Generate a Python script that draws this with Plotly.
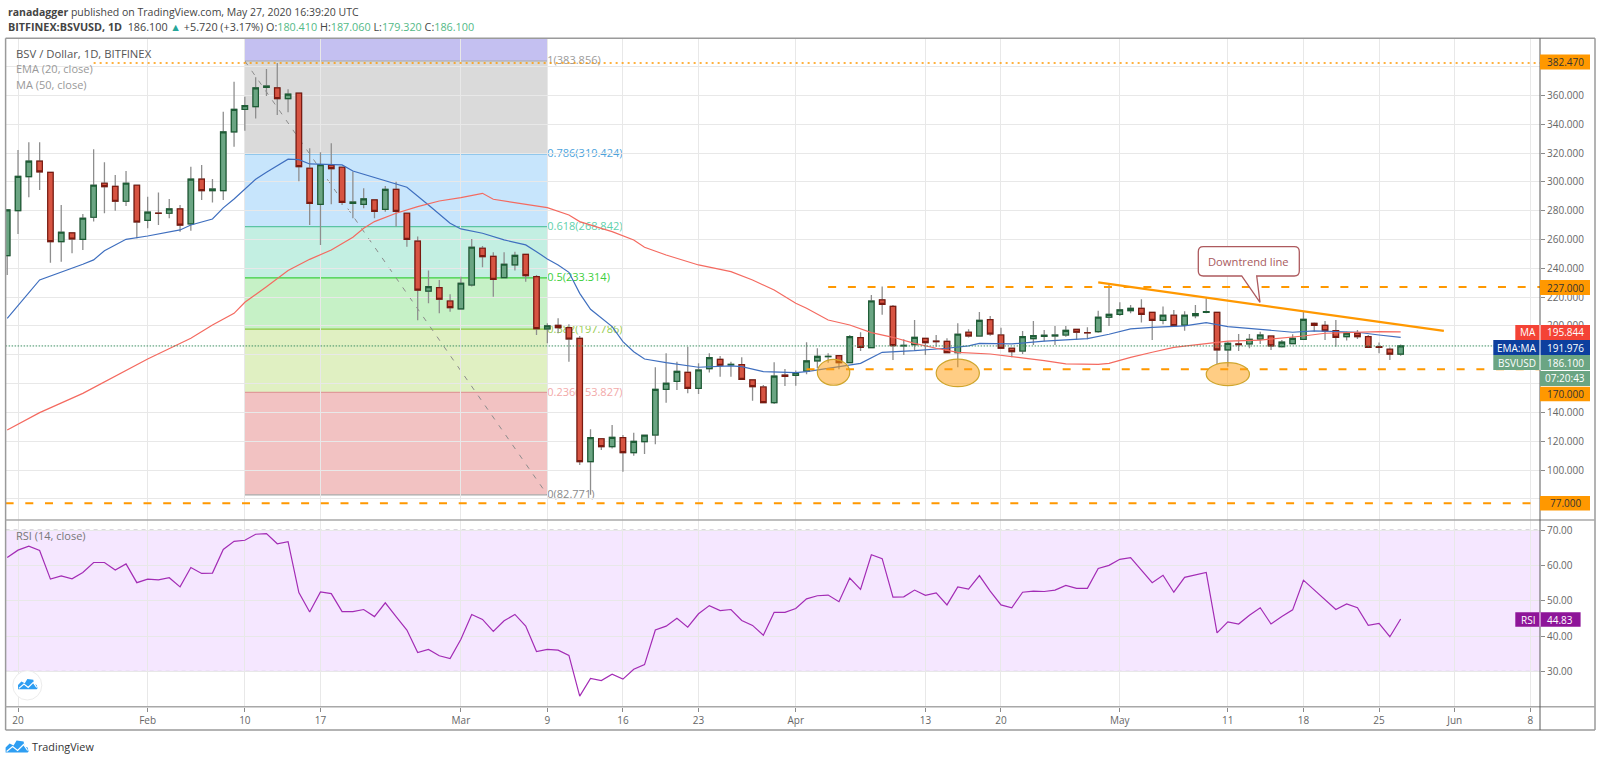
import pandas as pd
import plotly.graph_objects as go

# daily candles from 2020-01-19
opens = [248.8,280.0,303.6,314.3,306.6,258.5,264.5,260.1,275.4,299.0,296.9,286.5,297.6,273.3,278.3,278.2,281.2,270.8,301.8,293.9,
         293.9,334.6,350.3,352.2,365.6,365.2,357.8,361.5,309.4,284.4,311.5,310.1,285.1,284.4,287.4,280.9,294.8,278.2,258.9,224.2,
         226.6,217.3,211.8,228.4,253.9,248.3,233.5,242.3,249.7,234.2,197.9,200.4,198.8,191.4,105.8,121.7,116.2,122.4,112.0,119.7,
         124.3,156.0,161.5,167.8,156.7,170.3,176.8,173.0,173.1,162.5,157.6,146.7,165.9,165.7,168.7,175.7,178.7,179.4,174.5,191.9,
         184.9,218.0,213.6,186.1,187.0,191.4,189.5,189.3,181.4,195.6,193.0,204.3,193.7,184.5,182.6,191.2,192.8,193.0,193.7,197.6,
         195.4,196.0,206.0,208.0,210.6,212.2,209.4,203.9,207.4,200.6,207.1,209.4,209.4,183.3,187.5,187.5,190.9,193.0,185.6,187.7,
         190.7,201.8,200.4,196.7,192.5,194.9,192.5,185.6,183.8,180.41]
highs = [281,322.1,327.4,327.4,307,283.9,265,277.7,322.6,313.6,304.8,307.5,297.6,289.7,292.5,288.1,283.9,310.5,311.7,302,
         348.7,369.5,359,372.6,378.3,382.47,364.2,362,323.3,320.5,326.7,310.1,307.1,295.5,287.4,297.1,300.1,278.2,262,238.4,
         231.9,221.9,234.2,260.3,255.5,251.1,251.1,251.5,249.7,235.4,201.8,205.3,201.1,193,128.2,121.9,131.2,124.3,125.9,124.5,
         171.3,181,175.2,185.6,174,181,179.1,175.2,178.2,162.5,159,174.7,170.1,169,188.6,184.5,181,179.4,193.7,195.6,
         221.5,227.3,214.5,190.7,204.1,191.4,193.7,191.4,201.8,197.6,209.7,206.9,198.8,184.5,196.5,203.4,197.2,200,200,197.6,
         199,210.6,228.9,216.4,214.5,218.5,209.4,213.4,211.1,210.1,214.5,219.2,209.9,189.1,194.4,194.4,196,193,190.2,194.2,
         209.9,202.3,203.4,204.1,196,197.2,193.7,188.4,185.1,187.06]
lows = [235.4,263.8,289.3,294.4,243.9,244.6,250.4,252.7,272.4,278.2,280,283.3,260.8,267.7,270,274.7,265.4,266.1,287.4,285.6,
        287.4,324.4,335.5,343.9,359.6,346.4,348.3,300.4,270,256.2,284.4,283.9,274.7,281.6,274.7,279.3,268.9,255,204,215.7,
        208.7,209.9,211.8,227.3,240.7,220.3,233,238.4,230.7,193.7,187.9,194.9,175.2,103.5,82.8,113.9,115,98.8,109.9,111.1,
        117.8,146.7,155.5,153.2,152.8,167.6,164.8,164.8,162.9,148.1,146.3,145.8,158.3,158.4,166.4,170.6,174.5,169.9,174,182.6,
        184.5,207.8,176.4,179.8,182.8,179.8,185.6,181,171.3,191.9,192.5,193.2,184,178.2,180.5,186.8,189.1,186.8,192.5,190.2,
        190.7,195.3,200,206.9,208.7,202.3,190.2,201.1,199.5,196.7,205.3,208.7,173.6,171.7,182.6,184.5,187.5,183.3,185.1,187.5,
        190.2,196,190.2,185.6,189.8,190.9,185.1,181,176.4,179.32]
closes = [280.5,303.8,314.3,306.9,258.5,265,260.3,274.7,297.6,296.7,286.5,299,272.1,278.9,278.1,281.2,270,301.8,293.9,295,
          334.6,350.3,352.9,365.2,366.5,357.8,360.8,310.6,285.1,311.9,309.2,285.8,286,288.1,279.5,294.8,279.5,260.1,224.9,227.3,
          218.5,212.7,229.6,254.6,248.1,232.3,242.8,249,234.9,198.1,200,198.8,190.9,105.8,122.4,116.2,122.7,112,119.9,124.1,
          156,160.2,168.5,156.7,169.4,178,172.7,173.3,162.9,157.8,146.7,165.2,165,167.6,175.7,178.9,178.9,174.5,192.5,185.1,
          217.3,215,186.3,186.5,192.1,188.4,189.1,181.4,194.2,193,203.9,194.4,184.5,182.1,192.5,193.2,193.5,193.7,196.9,195.6,
          195.1,206,208,211.1,212.2,208,203.9,207.4,200.2,207.4,208.5,209.9,183.3,187.9,187,190.7,193.7,186.1,188.8,191.4,
          204.6,200.4,196.5,192.1,194.9,192.5,185.1,185.1,180.38,186.1]
rsi = [62.2,64.3,65.4,64.2,56.1,57,56.2,58,60.8,60.8,58.7,60.4,55.1,56.1,55.9,56.5,53.9,59.4,57.7,57.8,
       64.5,66.8,67.1,68.8,69,66.1,66.7,52.3,46.8,52.5,52,46.9,46.9,47.5,45.5,49.4,45.5,41.7,35.3,36.2,
       34.4,33.6,39.1,46.1,44.7,41.3,44.3,46.1,42.8,35.6,36.2,36,34.5,23,28,27.4,29.2,27.8,30.6,31.9,
       41.7,42.8,45,42.5,46.3,48.6,47.2,47.5,44.4,43,40.2,46.7,46.7,47.8,50.5,51.4,51.6,49.7,56.4,53.2,
       63,61.9,51,51.1,53,51.5,52.2,48.8,53.9,53.3,57.1,52.7,48.8,48,52.4,52.7,52.6,53,54.3,53.5,
       53.5,59.1,60,61.7,62.2,58.7,55.1,57.2,52.4,56.6,57.3,58,40.9,44,43.4,45.9,48,43.4,45.5,47.4,
       55.8,53,50.3,47.5,49.1,48,43,43.6,39.8,44.83]

# averages: dates where the line bends and the price there
ema_dates = ["2020-01-19","2020-01-22","2020-01-26","2020-01-27","2020-01-28","2020-01-30","2020-02-01","2020-02-04","2020-02-05","2020-02-07",
             "2020-02-08","2020-02-09","2020-02-11","2020-02-12","2020-02-14","2020-02-15","2020-02-16","2020-02-19","2020-02-20","2020-02-22",
             "2020-02-24","2020-02-25","2020-02-27","2020-02-29","2020-03-01","2020-03-03","2020-03-05","2020-03-07","2020-03-08","2020-03-09",
             "2020-03-10","2020-03-11","2020-03-12","2020-03-13","2020-03-15","2020-03-16","2020-03-17","2020-03-18","2020-03-20","2020-03-21",
             "2020-03-23","2020-03-26","2020-03-27","2020-03-29","2020-03-31","2020-04-01","2020-04-02","2020-04-03","2020-04-06","2020-04-07",
             "2020-04-09","2020-04-12","2020-04-15","2020-04-17","2020-04-18","2020-04-21","2020-04-24","2020-04-28","2020-04-30","2020-05-02",
             "2020-05-04","2020-05-07","2020-05-09","2020-05-11","2020-05-14","2020-05-17","2020-05-19","2020-05-21","2020-05-23","2020-05-25","2020-05-27"]
ema_vals = [205.3,231.9,242.8,245.8,252.2,260.1,262.4,266.6,270,274.2,281.9,288.1,301.8,306.7,315.7,315.4,312.4,311.7,307.5,302.9,
            298.5,296.2,283.9,271.2,267.3,264.3,259.7,256.2,251.5,246.5,242.3,237.2,222.6,211.5,199.5,189.1,182.1,177,174.5,173.6,
            171.3,172.2,171.7,168.3,167.6,167.6,168.3,169.4,172.9,174,181.7,182.8,184.5,186.1,187.9,187.5,189.5,191.2,194.2,197.9,
            199,200,202.3,199.5,197.6,195.6,196.5,196,195.6,193.7,191.98]
ma_dates = ["2020-01-19","2020-01-22","2020-01-26","2020-01-29","2020-02-01","2020-02-05","2020-02-07","2020-02-09","2020-02-10","2020-02-12",
            "2020-02-14","2020-02-16","2020-02-18","2020-02-20","2020-02-21","2020-02-22","2020-02-24","2020-02-26","2020-02-28","2020-03-01",
            "2020-03-03","2020-03-04","2020-03-06","2020-03-08","2020-03-09","2020-03-11","2020-03-12","2020-03-14","2020-03-15","2020-03-17",
            "2020-03-18","2020-03-20","2020-03-23","2020-03-26","2020-03-28","2020-03-30","2020-04-01","2020-04-02","2020-04-04","2020-04-06",
            "2020-04-08","2020-04-10","2020-04-12","2020-04-14","2020-04-16","2020-04-19","2020-04-21","2020-04-24","2020-04-26","2020-04-29",
            "2020-04-30","2020-05-02","2020-05-04","2020-05-06","2020-05-08","2020-05-11","2020-05-14","2020-05-16","2020-05-18","2020-05-20",
            "2020-05-23","2020-05-25","2020-05-27"]
ma_vals = [127.8,139.8,153.2,165.2,177,191.4,200.6,208.7,216.4,227.2,238.4,246.2,252.7,261.5,267.7,272.4,278.2,282.8,286.7,289,
           292,287.9,285.6,283.5,282.1,277,272.4,267.7,265.4,259.6,254.6,249.2,242.3,237.7,231.9,224.9,215.7,212.2,204.1,200.6,
           195.3,192.1,187.9,184.5,181.7,180.5,178.7,175.9,173.6,173.3,174,178.2,181.7,185.1,186.8,189.5,190.2,191.4,193,194.9,
           195.8,196,195.84]

fib_levels = [1, 0.786, 0.618, 0.5, 0.382, 0.236, 0]
fib_prices = [383.856, 319.424, 268.842, 233.314, 197.786, 153.827, 82.771]
fib_fills = ["rgba(120,120,120,0.27)", "rgba(33,150,243,0.25)", "rgba(38,198,150,0.28)", "rgba(50,205,50,0.28)",
             "rgba(130,195,10,0.25)", "rgba(200,0,0,0.24)"]
fib_lines = ["#a8a8a8", "#5aa9dc", "#5cc4a4", "#3ccf3c", "#8ec641", "#e09a9a", "#a8a8a8"]
fib_text = ["#9a9a9a", "#4ba3dc", "#5fd0ac", "#3ccf3c", "#96cc50", "#f2a9a9", "#8a8a8a"]

tick_dates = ["2020-01-20","2020-02-01","2020-02-10","2020-02-17","2020-03-01","2020-03-09","2020-03-16","2020-03-23","2020-04-01",
              "2020-04-13","2020-04-20","2020-05-01","2020-05-11","2020-05-18","2020-05-25","2020-06-01","2020-06-08"]
tick_labels = ["20","Feb","10","17","Mar","9","16","23","Apr","13","20","May","11","18","25","Jun","8"]
price_ticks = [80,100,120,140,160,180,200,220,240,260,280,300,320,340,360,380]
# 80, 160, 180 and 380 sit under the price tags in the picture
price_labels = ["","100.000","120.000","140.000","","","200.000","220.000","240.000","260.000","280.000","300.000","320.000","340.000","360.000",""]
rsi_ticks = [30,40,50,60,70]

dates = pd.date_range("2020-01-19", periods=len(opens), freq="D")
assert len(opens) == len(highs) == len(lows) == len(closes) == len(rsi) == 130

W, H = 1600, 763
FONT = "Open Sans"
ORANGE = "#ff9800"
UP, DOWN = "#6ba583", "#d75442"

def px(x):
    return x / W

def py(y):
    return 1 - y / H

x_range = ["2020-01-18 20:24", "2020-06-08 21:36"]
right_end = x_range[1]

fig = go.Figure()

# wicks first, then bodies over them so the wicks can stay grey
fig.add_trace(go.Candlestick(x=dates, open=opens, high=highs, low=lows, close=closes, whiskerwidth=0,
                             increasing=dict(line=dict(color="#8e8e8e", width=1.3), fillcolor=UP),
                             decreasing=dict(line=dict(color="#8e8e8e", width=1.3), fillcolor=DOWN),
                             showlegend=False, hoverinfo="skip"))
body_high = [max(o, c) for o, c in zip(opens, closes)]
body_low = [min(o, c) for o, c in zip(opens, closes)]
fig.add_trace(go.Candlestick(x=dates, open=opens, high=body_high, low=body_low, close=closes, whiskerwidth=0,
                             increasing=dict(line=dict(color="#1d5c35", width=1.2), fillcolor=UP),
                             decreasing=dict(line=dict(color="#7a1a10", width=1.2), fillcolor=DOWN),
                             showlegend=False, hoverinfo="skip"))
fig.add_trace(go.Scatter(x=ema_dates, y=ema_vals, mode="lines", line=dict(color="#3f6fbf", width=1.2), showlegend=False))
fig.add_trace(go.Scatter(x=ma_dates, y=ma_vals, mode="lines", line=dict(color="#f46a60", width=1.2), showlegend=False))
fig.add_trace(go.Scatter(x=dates, y=rsi, mode="lines", line=dict(color="#a32cb5", width=1.2), xaxis="x2", yaxis="y2", showlegend=False))

# fibonacci block
fib_start, fib_end = "2020-02-10", "2020-03-09"
fig.add_shape(type="rect", x0=fib_start, x1=fib_end, y0=fib_prices[0], y1=399.6, xref="x", yref="y", layer="below",
              fillcolor="rgba(70,60,210,0.32)", line_width=0)
for i in range(len(fib_fills)):
    fig.add_shape(type="rect", x0=fib_start, x1=fib_end, y0=fib_prices[i + 1], y1=fib_prices[i], xref="x", yref="y",
                  layer="below", fillcolor=fib_fills[i], line_width=0)
for lvl, price, lc, tc in zip(fib_levels, fib_prices, fib_lines, fib_text):
    fig.add_shape(type="line", x0=fib_start, x1=fib_end, y0=price, y1=price, xref="x", yref="y", layer="below",
                  line=dict(color=lc, width=1.2),
                  label=dict(text=f"{lvl}({price:.3f})", textposition="end", xanchor="left", yanchor="middle",
                             padding=5, font=dict(family=FONT, size=11, color=tc)))
fig.add_shape(type="line", x0=fib_start, x1=fib_end, y0=fib_prices[0], y1=fib_prices[-1], xref="x", yref="y", layer="below",
              line=dict(color="#8c8c8c", width=1, dash="5px,7px"))

# rsi band
fig.add_shape(type="rect", x0=0, x1=1, y0=30, y1=70, xref="x2 domain", yref="y2", layer="below",
              fillcolor="rgba(153,20,255,0.10)", line_width=0)
for lvl in [30, 70]:
    fig.add_shape(type="line", x0=0, x1=1, y0=lvl, y1=lvl, xref="x2 domain", yref="y2", layer="below",
                  line=dict(color="#b5aebd", width=1, dash="4px,4px"))

# drawn levels
fig.add_shape(type="line", x0="2020-01-27", x1=right_end, y0=382.47, y1=382.47, xref="x", yref="y",
              line=dict(color=ORANGE, width=1.5, dash="2px,4px"))
fig.add_shape(type="line", x0="2020-04-04", x1=right_end, y0=227, y1=227, xref="x", yref="y",
              line=dict(color=ORANGE, width=2, dash="8px,11.7px"))
fig.add_shape(type="line", x0="2020-04-02", x1=right_end, y0=170, y1=170, xref="x", yref="y",
              line=dict(color=ORANGE, width=2, dash="8px,11.7px"))
fig.add_shape(type="line", x0=x_range[0], x1=right_end, y0=77, y1=77, xref="x", yref="y",
              line=dict(color=ORANGE, width=2, dash="8px,11.7px"))
fig.add_shape(type="line", x0=x_range[0], x1=right_end, y0=186.1, y1=186.1, xref="x", yref="y",
              line=dict(color="#3d8f63", width=1, dash="1.5px,1.5px"))
fig.add_shape(type="line", x0="2020-04-29", x1="2020-05-31", y0=230.2, y1=196.5, xref="x", yref="y",
              line=dict(color=ORANGE, width=2.2))

# support ovals
for x0, x1, y0, y1 in [("2020-04-03", "2020-04-06", 158.8, 176.8), ("2020-04-14", "2020-04-18", 157.8, 176.9),
                       ("2020-05-09", "2020-05-13", 158.5, 174.5)]:
    fig.add_shape(type="circle", x0=x0, x1=x1, y0=y0, y1=y1, xref="x", yref="y",
                  fillcolor="rgba(255,160,20,0.52)", line=dict(color="#cfa52c", width=1.2))

# pane borders
for x0, y0, x1, y1, col, wd in [(5.6, 38.3, 1595, 38.3, "#9a9a9a", 1.5), (5.6, 730, 1595, 730, "#9a9a9a", 1.5),
                                (5.6, 38.3, 5.6, 730, "#9a9a9a", 1.5), (1595, 38.3, 1595, 730, "#9a9a9a", 1.5),
                                (5.6, 520, 1595, 520, "#a8a8a8", 1.5), (5.6, 706.7, 1595, 706.7, "#a8a8a8", 1.5),
                                (1540, 38.3, 1540, 730, "#5a5a5a", 1)]:
    fig.add_shape(type="line", x0=px(x0), x1=px(x1), y0=py(y0), y1=py(y1), xref="paper", yref="paper",
                  line=dict(color=col, width=wd))

def note(x, y, text, size=10, color="#555555", anchor="left", weight=None):
    fig.add_annotation(x=px(x), y=py(y), xref="paper", yref="paper", text=text, showarrow=False, xanchor=anchor,
                       yanchor="middle", font=dict(family=FONT, size=size, color=color, weight=weight))

def tag(x0, x1, y0, y1, fill, value, color="#ffffff", name=None):
    fig.add_shape(type="rect", x0=px(x0), x1=px(x1), y0=py(y0), y1=py(y1), xref="paper", yref="paper",
                  fillcolor=fill, line_width=0)
    note(1565 if x1 > 1585 else 1560, (y0 + y1) / 2, value, color=color, anchor="center")
    if name:
        fig.add_shape(type="line", x0=px(1540), x1=px(1540), y0=py(y0), y1=py(y1), xref="paper", yref="paper",
                      line=dict(color="#ffffff", width=1))
        note((x0 + 1540) / 2, (y0 + y1) / 2, name, color=color, anchor="center")

# price scale tags
tag(1540, 1590, 54.5, 69.5, ORANGE, "382.470", "#333333")
tag(1540, 1590, 280, 295, ORANGE, "227.000", "#333333")
tag(1515.3, 1590, 325, 340, "#f44336", "195.844", name="MA")
tag(1493.3, 1590, 340, 355, "#0d3f9e", "191.976", name="EMA:MA")
tag(1493.3, 1590, 355, 370, UP, "186.100", name="BSVUSD")
tag(1540, 1590, 371, 386, UP, "07:20:43")
tag(1540, 1590, 386.7, 401.3, ORANGE, "170.000", "#333333")
tag(1540, 1590, 496, 510.5, ORANGE, "77.000", "#333333")
tag(1515.3, 1580.6, 612.3, 626.7, "#8e1599", "44.83", name="RSI")

# callout
cx0, cx1, cy0, cy1, r = 1198.3, 1299.3, 246.7, 276, 5
call = [f"M {px(cx0 + r)} {py(cy0)}", f"L {px(cx1 - r)} {py(cy0)}", f"Q {px(cx1)} {py(cy0)} {px(cx1)} {py(cy0 + r)}",
        f"L {px(cx1)} {py(cy1 - r)}", f"Q {px(cx1)} {py(cy1)} {px(cx1 - r)} {py(cy1)}",
        f"L {px(1256.7)} {py(cy1)}", f"L {px(1260)} {py(302.3)}", f"L {px(1241.7)} {py(cy1)}",
        f"L {px(cx0 + r)} {py(cy1)}", f"Q {px(cx0)} {py(cy1)} {px(cx0)} {py(cy1 - r)}",
        f"L {px(cx0)} {py(cy0 + r)}", f"Q {px(cx0)} {py(cy0)} {px(cx0 + r)} {py(cy0)}", "Z"]
fig.add_shape(type="path", path=" ".join(call), xref="paper", yref="paper", fillcolor="#ffffff",
              line=dict(color="#ad5a5e", width=1.3))
note((cx0 + cx1) / 2, 261, "Downtrend line", size=11.2, color="#a85a5e", anchor="center")

# tradingview marks
def logo(x, y, s):
    cloud = [(0, 12), (0, 7), (4, 3), (8, 5), (11, 0), (18, 1), (19, 6), (22, 7), (23, 11), (22, 12)]
    zig = [(1, 11), (7, 6), (12, 10), (18, 4), (22, 10)]
    d = "M " + " L ".join(f"{px(x + a * s)} {py(y + b * s)}" for a, b in cloud) + " Z"
    fig.add_shape(type="path", path=d, xref="paper", yref="paper", fillcolor="#2e9ef2", line_width=0)
    d = "M " + " L ".join(f"{px(x + a * s)} {py(y + b * s)}" for a, b in zig)
    fig.add_shape(type="path", path=d, xref="paper", yref="paper", line=dict(color="#ffffff", width=1.2))

fig.add_shape(type="circle", x0=px(12.8), x1=px(41.8), y0=py(670.7), y1=py(700), xref="paper", yref="paper",
              fillcolor="#ffffff", line=dict(color="#ececec", width=1))
logo(18, 679, 0.85)
logo(5.6, 740.5, 1)
note(30, 746, "TradingView", size=10.8, color="#333333")

# header and legends
note(6, 11.5, "<b>ranadagger</b> published on TradingView.com, May 27, 2020 16:39:20 UTC", size=10.5, color="#444444")
val = "#53b987"
note(6, 26.5, "<b>BITFINEX:BSVUSD, 1D</b>  186.100 <span style='color:#26a69a'>▲</span> +5.720 (+3.17%) "
     f"O:<span style='color:{val}'>180.410</span> H:<span style='color:{val}'>187.060</span> "
     f"L:<span style='color:{val}'>179.320</span> C:<span style='color:{val}'>186.100</span>", size=10.8, color="#444444")
note(14, 54, "BSV / Dollar, 1D, BITFINEX", size=11.3, color="#555555")
note(14, 69, "EMA (20, close)", size=11, color="#999999")
note(14, 84.5, "MA (50, close)", size=11, color="#999999")
note(13.5, 535.7, "RSI (14, close)", size=11, color="#777777")

grid = dict(showgrid=True, gridcolor="#e8e8e8", gridwidth=1.3, zeroline=False)
fig.update_layout(
    width=W, height=H, autosize=False, margin=dict(l=0, r=0, t=0, b=0), paper_bgcolor="#ffffff", plot_bgcolor="#ffffff",
    showlegend=False, boxgap=0.28, hovermode=False, dragmode=False,
    font=dict(family=FONT, size=10, color="#666666"),
    xaxis=dict(domain=[px(5.6), px(1540)], range=x_range, rangeslider=dict(visible=False), type="date", anchor="y",
               tickvals=tick_dates, showticklabels=False, ticks="", **grid),
    yaxis=dict(domain=[py(520), py(38.3)], range=[65.3, 399.6], side="right", anchor="x", tickvals=price_ticks,
               ticktext=price_labels, ticks="outside", ticklen=4, tickcolor="#8a8a8a", **grid),
    xaxis2=dict(domain=[px(5.6), px(1540)], range=x_range, type="date", anchor="y2", tickvals=tick_dates,
                ticktext=tick_labels, ticks="outside", ticklen=4, tickcolor="#8a8a8a", **grid),
    yaxis2=dict(domain=[py(706.7), py(520)], range=[20, 72.83], side="right", anchor="x2", tickvals=rsi_ticks,
                tickformat=".2f", ticks="outside", ticklen=4, tickcolor="#8a8a8a", **grid),
)

# page margin off so the figure sits at 0,0 in the window
fig.write_html("out.html", config={"displayModeBar": False}, post_script="document.body.style.margin='0';")
